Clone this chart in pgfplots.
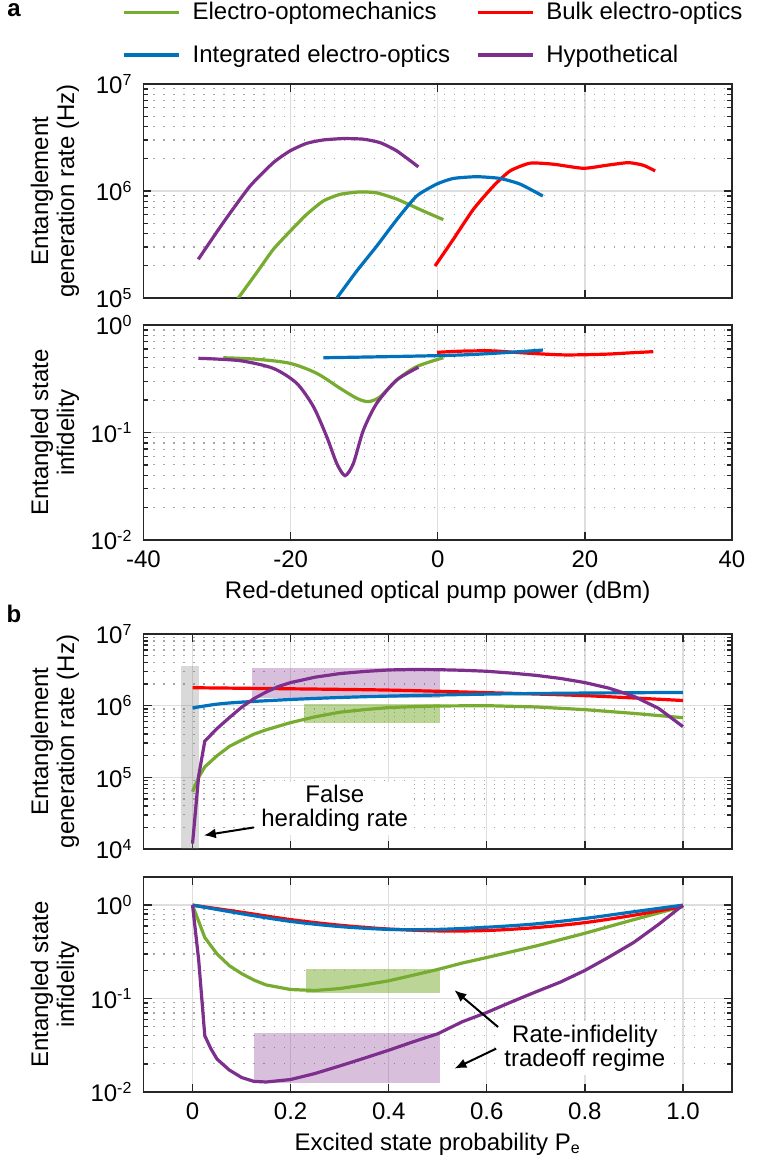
\documentclass[border=0pt]{standalone}
\usepackage{pgfplots}
\pgfplotsset{compat=1.18}
\usepackage{fontspec}
\setmainfont{Liberation Sans}
\usetikzlibrary{arrows.meta}
\definecolor{cgreen}{RGB}{119,172,48}
\definecolor{cred}{RGB}{255,0,0}
\definecolor{cblue}{RGB}{0,114,189}
\definecolor{cpurple}{RGB}{126,47,142}
\pgfplotsset{
 myaxis/.style={
  scale only axis, width=294.25pt, height=107.5pt,
  axis line style={black!85, line width=0.8pt},
  tick style={black!85, line width=0.7pt},
  tick align=inside,
  major tick length=4pt, minor tick length=2.5pt,
  grid=both,
  major grid style={draw=black!13, line width=0.7pt},
  minor grid style={draw=black!35, line width=0.6pt, dash pattern=on 0.7pt off 4.3pt},
  tick label style={font=\fontsize{12}{14}\selectfont},
  every axis y label/.style={at={(rel axis cs:-0.1504,0.5)}, rotate=90, anchor=center, align=center, font=\fontsize{12}{13}\selectfont},
  every axis x label/.style={at={(rel axis cs:0.5,-0.2419)}, anchor=center, font=\fontsize{12}{14}\selectfont},
  every axis plot/.append style={line width=1.6pt},
  xticklabel style={yshift=-2pt},
  yticklabel style={xshift=-2pt},
 }
}
\begin{document}
\begin{tikzpicture}
\useasboundingbox (-71.75pt,42pt) rectangle (313.25pt,-538.5pt);
% ---------------- panel a, top
\begin{axis}[myaxis, ymode=log, name=a1, at={(0pt,0pt)}, anchor=north west,
  height=107pt,
  xmin=-40, xmax=40, ymin=1e5, ymax=1e7,
  xtick={-40,-20,0,20,40}, xticklabels={},
  ytick={1e5,1e6,1e7},
  yticklabels={10\textsuperscript{5},10\textsuperscript{6},10\textsuperscript{7}},
  minor ytick={2e5,3e5,4e5,5e5,6e5,7e5,8e5,9e5,2e6,3e6,4e6,5e6,6e6,7e6,8e6,9e6},
  ylabel={Entanglement\\generation rate (Hz)},
  legend style={draw=none, fill=none, at={(rel axis cs:0,1)}, anchor=north west,
    xshift=-10.75pt, yshift=43pt, font=\fontsize{12}{14}\selectfont,
    /tikz/every odd column/.append style={column sep=4pt},
    /tikz/every even column/.append style={column sep=11pt}, row sep=7pt, inner sep=0pt},
  legend columns=2, legend cell align=left,
  legend image code/.code={\draw[#1,line width=1.6pt] (0pt,0pt) -- (27.5pt,0pt);},
]
\addplot[cgreen, smooth, tension=0.35] coordinates {(-27.3,0.96e5) (-24.6,1.73e5) (-22.35,2.85e5) (-20.08,4.2e5) (-17.81,6.05e5) (-15.55,8.07e5) (-13.28,9.3e5) (-10.56,9.8e5) (-8.29,9.6e5) (-5.57,8.4e5) (-1.96,6.5e5) (0.76,5.4e5)};
\addlegendentry{Electro-optomechanics}
\addplot[cred, smooth, tension=0.35] coordinates {(-0.37,1.99e5) (2.12,3.54e5) (4.84,6.74e5) (7.56,1.11e6) (9.83,1.54e6) (12.55,1.82e6) (15.72,1.78e6) (19.8,1.63e6) (22.98,1.74e6) (25.91,1.84e6) (27.95,1.74e6) (29.55,1.54e6)};
\addlegendentry{Bulk electro-optics}
\addplot[cblue, smooth, tension=0.35] coordinates {(-13.9,0.96e5) (-11.0,1.79e5) (-8.29,3.06e5) (-5.57,5.4e5) (-2.86,8.98e5) (-0.14,1.16e6) (2.12,1.31e6) (5.3,1.36e6) (8.47,1.31e6) (11.19,1.16e6) (14.28,8.98e5)};
\addlegendentry{Integrated electro-optics}
\addplot[cpurple, smooth, tension=0.35] coordinates {(-32.55,2.3e5) (-29.15,5.07e5) (-25.52,1.11e6) (-22.35,1.84e6) (-20.08,2.37e6) (-17.81,2.79e6) (-15.55,3.0e6) (-12.83,3.09e6) (-10.11,3.05e6) (-7.84,2.83e6) (-5.57,2.37e6) (-2.63,1.68e6)};
\addlegendentry{Hypothetical}
\end{axis}
% ---------------- panel a, bottom
\begin{axis}[myaxis, ymode=log, name=a2, at={(0pt,-120.5pt)}, anchor=north west,
  xmin=-40, xmax=40, ymin=1e-2, ymax=1,
  xtick={-40,-20,0,20,40}, xticklabels={-40,-20,0,20,40},
  ytick={1e-2,1e-1,1},
  yticklabels={10\textsuperscript{-2},10\textsuperscript{-1},10\textsuperscript{0}},
  minor ytick={0.02,0.03,0.04,0.05,0.06,0.07,0.08,0.09,0.2,0.3,0.4,0.5,0.6,0.7,0.8,0.9},
  ylabel={Entangled state\\infidelity},
  xlabel={Red-detuned optical pump power (dBm)},
]
\addplot[cgreen, smooth] coordinates {(-29.15,0.496) (-24.6,0.48) (-20.08,0.44) (-16.45,0.355) (-13.28,0.258) (-11.0,0.208) (-9.44,0.194) (-7.84,0.215) (-5.57,0.308) (-2.86,0.41) (0.76,0.496)};
\addplot[cred, smooth] coordinates {(-0.1,0.557) (3.5,0.572) (7.3,0.575) (10,0.56) (12.7,0.545) (17.3,0.527) (22.7,0.535) (26,0.55) (29.3,0.565)};
\addplot[cblue, smooth] coordinates {(-15.55,0.496) (3.03,0.526) (14.3,0.585)};
\addplot[cpurple, smooth, tension=0.45] coordinates {(-32.55,0.49) (-26.9,0.466) (-22.35,0.395) (-19.17,0.287) (-16.9,0.174) (-15.09,0.0914) (-13.73,0.0516) (-12.6,0.0397) (-11.47,0.0516) (-10.11,0.105) (-8.29,0.187) (-5.57,0.308) (-2.63,0.404)};
\end{axis}
% ---------------- panel b, top
\begin{axis}[myaxis, ymode=log, name=b1, at={(0pt,-275pt)}, anchor=north west,
  xmin=-0.1, xmax=1.1, ymin=1e4, ymax=1e7,
  xtick={0,0.2,0.4,0.6,0.8,1}, xticklabels={},
  ytick={1e4,1e5,1e6,1e7},
  yticklabels={10\textsuperscript{4},10\textsuperscript{5},10\textsuperscript{6},10\textsuperscript{7}},
  minor ytick={2e4,3e4,4e4,5e4,6e4,7e4,8e4,9e4,2e5,3e5,4e5,5e5,6e5,7e5,8e5,9e5,2e6,3e6,4e6,5e6,6e6,7e6,8e6,9e6},
  ylabel={Entanglement\\generation rate (Hz)},
]
\fill[gray, opacity=0.3] (axis cs:-0.024,1e4) rectangle (axis cs:0.014,3.56e6);
\fill[cpurple, opacity=0.3] (axis cs:0.122,1.29e6) rectangle (axis cs:0.505,3.4e6);
\fill[cgreen, opacity=0.5] (axis cs:0.228,5.8e5) rectangle (axis cs:0.505,1.05e6);
\addplot[cgreen] coordinates {(0,6.3e4) (0.0125,1.0e5) (0.025,1.4e5) (0.05,2.0e5) (0.075,2.7e5) (0.1,3.3e5) (0.125,4.0e5) (0.15,4.6e5) (0.2,5.8e5) (0.25,7.0e5) (0.3,8.1e5) (0.35,8.8e5) (0.4,9.4e5) (0.45,9.7e5) (0.5,9.9e5) (0.6,1.0e6) (0.7,9.6e5) (0.8,8.8e5) (0.9,7.8e5) (1.0,6.8e5)};
\addplot[cred, smooth] coordinates {(0,1.78e6) (0.2,1.72e6) (0.4,1.65e6) (0.6,1.52e6) (0.8,1.38e6) (1.0,1.18e6)};
\addplot[cblue, smooth] coordinates {(0,9.3e5) (0.05,1.05e6) (0.1,1.12e6) (0.2,1.22e6) (0.3,1.3e6) (0.4,1.36e6) (0.6,1.45e6) (0.8,1.5e6) (1.0,1.53e6)};
\addplot[cpurple] coordinates {(0,1.19e4) (0.0125,1.05e5) (0.025,3.2e5) (0.05,4.8e5) (0.075,6.8e5) (0.1,9.5e5) (0.125,1.25e6) (0.15,1.55e6) (0.175,1.85e6) (0.2,2.1e6) (0.25,2.5e6) (0.3,2.8e6) (0.35,3.0e6) (0.4,3.15e6) (0.45,3.2e6) (0.5,3.18e6) (0.55,3.12e6) (0.6,3.02e6) (0.65,2.85e6) (0.7,2.65e6) (0.75,2.4e6) (0.8,2.1e6) (0.85,1.75e6) (0.9,1.35e6) (0.95,9.2e5) (1.0,5.1e5)};
\node[fill=white, align=center, inner sep=2pt, font=\fontsize{12}{11.75}\selectfont] at (axis cs:0.29,3.68e4) {False\\heralding rate};
\draw[black, line width=1pt, -{Latex[length=6pt,width=5pt]}] (axis cs:0.125,2.0e4) -- (axis cs:0.023,1.55e4);
\end{axis}
% ---------------- panel b, bottom
\begin{axis}[myaxis, ymode=log, name=b2, at={(0pt,-396.5pt)}, anchor=north west,
  xmin=-0.1, xmax=1.1, ymin=1e-2, ymax=2,
  xtick={0,0.2,0.4,0.6,0.8,1}, xticklabels={0,0.2,0.4,0.6,0.8,1.0},
  ytick={1e-2,1e-1,1},
  yticklabels={10\textsuperscript{-2},10\textsuperscript{-1},10\textsuperscript{0}},
  minor ytick={0.02,0.03,0.04,0.05,0.06,0.07,0.08,0.09,0.2,0.3,0.4,0.5,0.6,0.7,0.8,0.9},
  ylabel={Entangled state\\infidelity},
  xlabel={Excited state probability P\textsubscript{e}},
]
\fill[cgreen, opacity=0.5] (axis cs:0.232,0.115) rectangle (axis cs:0.505,0.205);
\fill[cpurple, opacity=0.3] (axis cs:0.125,0.0125) rectangle (axis cs:0.505,0.0432);
\addplot[cgreen] coordinates {(0,1) (0.025,0.45) (0.05,0.3) (0.075,0.225) (0.1,0.185) (0.125,0.158) (0.15,0.14) (0.2,0.125) (0.25,0.122) (0.3,0.128) (0.35,0.14) (0.4,0.155) (0.45,0.178) (0.5,0.205) (0.55,0.24) (0.6,0.275) (0.7,0.365) (0.8,0.5) (0.9,0.7) (1.0,0.97)};
\addplot[cred, smooth] coordinates {(0,1) (0.1,0.84) (0.2,0.7) (0.3,0.61) (0.4,0.555) (0.5,0.53) (0.6,0.535) (0.7,0.575) (0.8,0.65) (0.9,0.78) (1.0,0.97)};
\addplot[cblue, smooth] coordinates {(0,1) (0.1,0.81) (0.2,0.67) (0.3,0.59) (0.4,0.55) (0.5,0.55) (0.6,0.58) (0.7,0.63) (0.8,0.72) (0.9,0.85) (1.0,1.0)};
\addplot[cpurple] coordinates {(0,1) (0.0125,0.26) (0.025,0.04) (0.0375,0.029) (0.05,0.0225) (0.075,0.0172) (0.1,0.0143) (0.125,0.013) (0.15,0.0128) (0.2,0.0136) (0.25,0.0158) (0.3,0.019) (0.35,0.023) (0.4,0.028) (0.45,0.0345) (0.5,0.042) (0.55,0.0565) (0.6,0.071) (0.65,0.092) (0.7,0.118) (0.75,0.15) (0.8,0.2) (0.85,0.28) (0.9,0.4) (0.95,0.62) (1.0,1.0)};
\node[fill=white, align=center, inner sep=2pt, font=\fontsize{12}{11.75}\selectfont] at (axis cs:0.8,0.0294) {Rate-infidelity\\tradeoff regime};
\draw[black, line width=1pt, -{Latex[length=6pt,width=5pt]}] (axis cs:0.623,0.0496) -- (axis cs:0.534,0.123);
\draw[black, line width=1pt, -{Latex[length=6pt,width=5pt]}] (axis cs:0.619,0.0291) -- (axis cs:0.534,0.0178);
\end{axis}
\node[font=\bfseries\fontsize{12}{14}\selectfont] at (-64.75pt,37pt) {a};
\node[font=\bfseries\fontsize{12}{14}\selectfont] at (-64.75pt,-265pt) {b};
\end{tikzpicture}
\end{document}
